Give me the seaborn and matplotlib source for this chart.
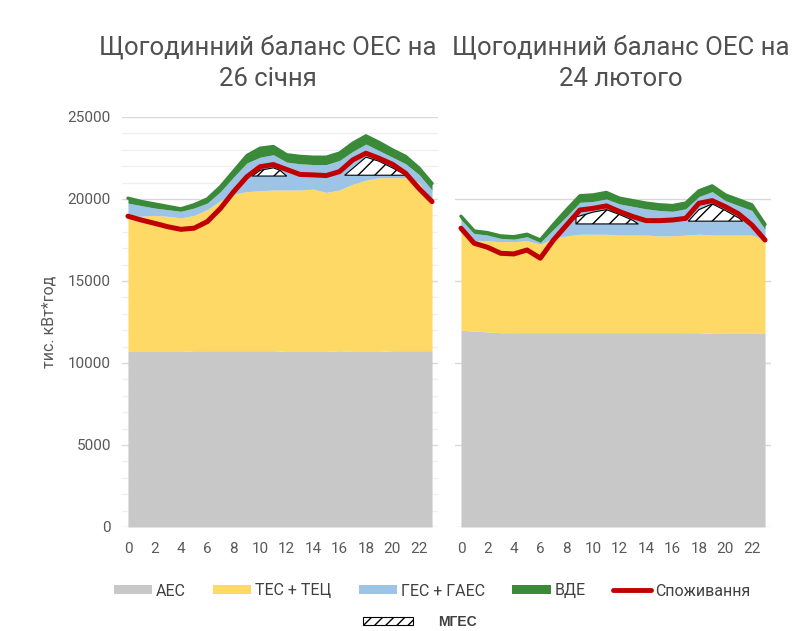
import matplotlib
matplotlib.use("Agg")
import matplotlib.pyplot as plt
from matplotlib.patches import Patch
from matplotlib.lines import Line2D
from matplotlib.ticker import MultipleLocator
import seaborn as sns

# години доби
hours = list(range(24))

# 26 січня, МВт (тис. кВт*год)
jan_aes = [10700, 10700, 10700, 10700, 10700, 10750, 10750, 10750, 10750, 10750, 10750, 10750,
           10700, 10700, 10700, 10700, 10750, 10700, 10700, 10700, 10750, 10750, 10750, 10750]
jan_tes = [8300, 8250, 8300, 8250, 8150, 8250, 8600, 9150, 9550, 9700, 9750, 9800,
           9850, 9850, 9900, 9700, 9800, 10200, 10450, 10600, 10550, 10550, 10250, 9050]
jan_ges = [750, 650, 450, 400, 400, 450, 400, 550, 1050, 1750, 2050, 2150,
           1700, 1600, 1500, 1700, 1800, 2000, 2200, 1650, 1250, 850, 500, 750]
jan_vde = [300, 250, 250, 200, 150, 200, 250, 300, 350, 450, 550, 500,
           450, 450, 450, 450, 450, 500, 500, 500, 450, 450, 400, 400]
jan_cons = [18950, 18720, 18520, 18310, 18150, 18220, 18620, 19430, 20450, 21360, 21970, 22100,
            21800, 21500, 21470, 21430, 21670, 22380, 22790, 22480, 22120, 21570, 20650, 19840]
# МГЕС (заштриховані ділянки): години, верхня межа, нижня межа
jan_mges = [
    ([9.4, 10, 11, 11.5, 12.0], [21400, 21750, 21900, 21750, 21400], 21400),
    ([16.4, 18, 19, 20, 21.05], [21450, 22550, 22300, 21900, 21450], 21450),
]

# 24 лютого
feb_aes = [12000, 11950, 11900, 11850, 11850, 11850, 11850, 11850, 11850, 11850, 11850, 11850,
           11850, 11850, 11850, 11850, 11850, 11850, 11850, 11800, 11800, 11800, 11800, 11800]
feb_tes = [6150, 5500, 5550, 5550, 5550, 5600, 5400, 5750, 5900, 6000, 6000, 6000,
           5950, 5950, 5950, 5900, 5900, 5950, 6000, 6000, 6000, 6000, 6000, 5700]
feb_ges = [600, 450, 350, 200, 150, 250, 100, 550, 1200, 1950, 2000, 2150,
           1900, 1750, 1600, 1550, 1500, 1600, 2300, 2650, 2100, 1800, 1500, 650]
feb_vde = [200, 150, 150, 150, 150, 150, 150, 300, 400, 400, 400, 400,
           350, 350, 350, 350, 350, 350, 350, 350, 350, 350, 350, 300]
feb_cons = [18220, 17300, 17060, 16690, 16650, 16890, 16390, 17500, 18420, 19330, 19430, 19580,
            19230, 18930, 18680, 18680, 18720, 18820, 19740, 19900, 19530, 19090, 18420, 17500]
feb_mges = [
    ([8.7, 8.7, 10, 11, 12, 13, 13.4], [18480, 18900, 19200, 19350, 19050, 18700, 18480], 18480),
    ([17.2, 18, 19, 20, 21, 21.3], [18650, 19350, 19700, 19300, 18850, 18650], 18650),
]

titles = ["Щогодинний баланс ОЕС на\n26 січня", "Щогодинний баланс ОЕС на\n24 лютого"]
labels = ["АЕС", "ТЕС + ТЕЦ", "ГЕС + ГАЕС", "ВДЕ", "Споживання"]
colors = ["#C8C8C8", "#FFD966", "#9DC3E6", "#3A8A3A", "#C00000"]

sns.set_theme(style="white")
plt.rcParams["font.family"] = ["Roboto", "DejaVu Sans"]
plt.rcParams["hatch.color"] = "black"
plt.rcParams["hatch.linewidth"] = 1.0

fig = plt.figure(figsize=(7.92, 6.31), dpi=100)
ax1 = fig.add_axes([122 / 792, 1 - 527 / 631, 316 / 792, 410 / 631])
ax2 = fig.add_axes([455 / 792, 1 - 527 / 631, 316 / 792, 410 / 631])

panels = [
    (ax1, jan_aes, jan_tes, jan_ges, jan_vde, jan_cons, jan_mges),
    (ax2, feb_aes, feb_tes, feb_ges, feb_vde, feb_cons, feb_mges),
]

for i, (ax, aes, tes, ges, vde, cons, mges) in enumerate(panels):
    ax.stackplot(hours, aes, tes, ges, vde, colors=colors[:4], lw=0, zorder=2)
    top = [a + b + c + d for a, b, c, d in zip(aes, tes, ges, vde)]
    ax.plot(hours, top, color=colors[3], lw=2.4, zorder=3)
    for hh, tops, base in mges:
        ax.fill_between(hh, base, tops, facecolor="white", edgecolor="black",
                        hatch="//", lw=0.8, zorder=4)
    sns.lineplot(x=hours, y=cons, color=colors[4], lw=3.6, ax=ax, zorder=5)

    ax.set_xlim(-0.45, 23.45)
    ax.set_ylim(0, 25000)
    ax.set_xticks(range(0, 24, 2))
    ax.set_axisbelow(True)
    ax.yaxis.grid(True, which="major", color="#D9D9D9", lw=1)
    if i == 0:
        ax.set_yticks(range(0, 25001, 5000))
        ax.yaxis.set_minor_locator(MultipleLocator(1000))
        ax.yaxis.grid(True, which="minor", color="#EFEFEF", lw=0.9)
        ax.set_ylabel("тис. кВт*год", color="#595959", fontsize=11.5, labelpad=8)
    else:
        ax.set_yticks(range(0, 20001, 5000))
        ax.set_yticklabels([])
    ax.tick_params(axis="both", length=0, labelsize=11, colors="#595959", pad=8)
    ax.tick_params(axis="x", pad=11)
    ax.set_xlabel("")
    for s in ax.spines.values():
        s.set_visible(False)

fig.text(268 / 792, 1 - 35 / 631, titles[0], ha="center", va="top", fontsize=18.5,
         color="#505050", linespacing=1.38)
fig.text(621 / 792, 1 - 35 / 631, titles[1], ha="center", va="top", fontsize=18.5,
         color="#505050", linespacing=1.38)

handles = [Patch(facecolor=c, edgecolor="none") for c in colors[:4]]
handles.append(Line2D([0], [0], color=colors[4], lw=3.5))
leg = fig.legend(handles, labels, loc="center", bbox_to_anchor=(432 / 792, 1 - 591 / 631),
                 ncol=5, frameon=False, fontsize=11.5, handlelength=2.4, handleheight=0.5,
                 columnspacing=1.7, handletextpad=0.25)
for t in leg.get_texts():
    t.set_color("#404040")

mges_leg = fig.legend([Patch(facecolor="white", edgecolor="black", hatch="///", lw=0.8)], ["МГЕС"],
                      loc="center", bbox_to_anchor=(420 / 792, 1 - 622 / 631), frameon=False,
                      handlelength=3.6, handleheight=0.55, handletextpad=1.8,
                      prop={"family": ["Liberation Sans", "DejaVu Sans"], "weight": "bold", "size": 10})
for t in mges_leg.get_texts():
    t.set_color("#404040")

fig.savefig("out.png", dpi=100)
